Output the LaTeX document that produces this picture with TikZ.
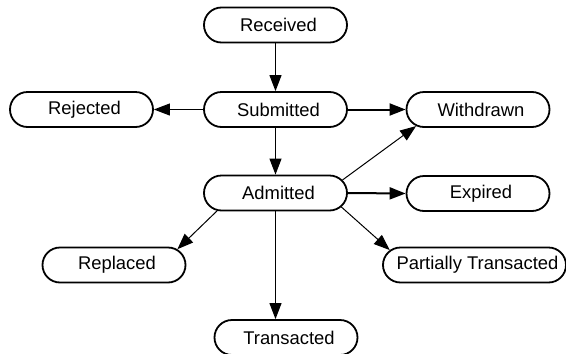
\documentclass[tikz,border=0pt]{standalone}
\usepackage{fontspec}
\setmainfont{Liberation Sans}
\usetikzlibrary{arrows.meta,shapes.misc}
\begin{document}
\begin{tikzpicture}[x=1pt,y=1pt,
  state/.style={rounded rectangle, draw=black, line width=1.8pt, minimum width=143pt, minimum height=35pt, inner sep=0pt, font=\fontsize{18.4}{22}\selectfont, execute at begin node={\hspace*{6pt}}},
  edge/.style={line width=1pt, -{Triangle[length=16pt,width=12pt]}},
  thickedge/.style={line width=2pt, -{Triangle[length=16pt,width=12pt]}}]
\useasboundingbox (0,0) rectangle (566,-354);
\node[state] (rec) at (275.5,-25) {Received};
\node[state] (sub) at (275.5,-109.5) {Submitted};
\node[state] (rej) at (81.5,-109.5) {Rejected};
\node[state] (wd) at (478,-109.5) {Withdrawn};
\node[state] (adm) at (275.5,-193) {Admitted};
\node[state] (exp) at (478,-193.5) {Expired};
\node[state] (rep) at (114,-265) {Replaced};
\node[state, minimum width=183pt] (pt) at (474.5,-265) {Partially Transacted};
\node[state] (tr) at (286,-337.5) {Transacted};
\draw[edge] (rec.south) -- (sub.north);
\draw[edge] (sub.west) -- (rej.east);
\draw[thickedge] (sub.east) -- (wd.west);
\draw[edge] (sub.south) -- (adm.north);
\draw[edge] (adm.11) -- (wd.195);
\draw[thickedge] (adm.east) -- (exp.west);
\draw[edge] (adm.197) -- (rep.14);
\draw[edge] (adm.south) -- (adm.south |- tr.north);
\draw[edge] (adm.348) -- (pt.170);
\end{tikzpicture}
\end{document}
